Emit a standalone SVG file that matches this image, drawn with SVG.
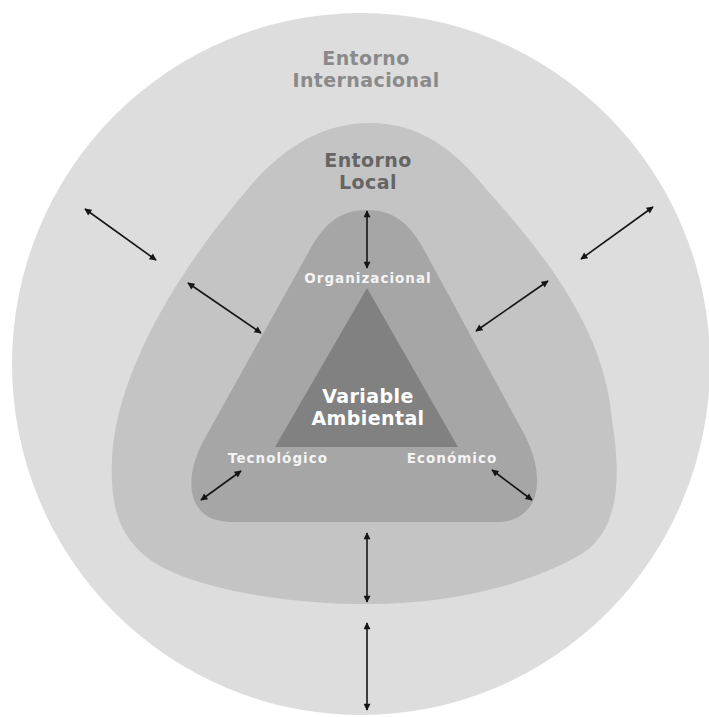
<svg xmlns="http://www.w3.org/2000/svg" width="709" height="717" viewBox="0 0 709 717">
  <defs>
    <marker id="ah" viewBox="0 0 10 10" refX="9" refY="5" markerWidth="9" markerHeight="7" markerUnits="userSpaceOnUse" orient="auto-start-reverse">
      <path d="M0,0 L10,5 L0,10 z" fill="#151515"/>
    </marker>
  </defs>
  <style>
    .t { font-family: "DejaVu Sans", Verdana, sans-serif; font-weight: bold; text-anchor: middle; }
    .big { font-size: 19px; letter-spacing: 0.4px; }
    .sm { font-size: 13.5px; fill: #f4f4f4; letter-spacing: 1px; }
    .arr { stroke: #151515; stroke-width: 1.6; fill: none; marker-start: url(#ah); marker-end: url(#ah); }
  </style>
  <rect width="709" height="717" fill="#ffffff"/>

  <g id="entorno-internacional">
    <ellipse cx="361" cy="364" rx="349" ry="351" fill="#dddddd"/>
    <text class="t big" x="366" y="65" fill="#8a8a8a">Entorno</text>
    <text class="t big" x="366" y="87" fill="#8a8a8a" letter-spacing="0.8">Internacional</text>
  </g>

  <g id="entorno-local">
    <path d="M370,123 C420,123 455,150 487,190 C545,255 605,330 612,420 C622,480 618,530 583,553 C530,585 450,604 367,604 C280,604 200,588 160,566 C118,542 110,505 112,460 C115,380 170,280 247,190 C280,150 320,123 370,123 Z" fill="#c4c4c4"/>
    <text class="t big" x="368" y="167" fill="#656565">Entorno</text>
    <text class="t big" x="368" y="189" fill="#656565">Local</text>
  </g>

  <g id="factores">
    <path d="M367,210 C392,210 408,222 422,246 L522,430 C540,462 545,500 520,516 C512,521 505,522 495,522 L235,522 C222,522 210,520 202,512 C185,495 190,465 205,438 L312,246 C326,222 342,210 367,210 Z" fill="#a6a6a6"/>
    <text class="t sm" x="368" y="283">Organizacional</text>
    <text class="t sm" x="278" y="463">Tecnológico</text>
    <text class="t sm" x="452" y="463">Económico</text>
  </g>

  <g id="variable-ambiental">
    <polygon points="367,288 275,447 458,447" fill="#818181"/>
    <text class="t big" x="368" y="403" fill="#ffffff">Variable</text>
    <text class="t big" x="368" y="425" fill="#ffffff">Ambiental</text>
  </g>

  <g id="connectors">
    <line class="arr" x1="85" y1="209" x2="156" y2="260"/>
    <line class="arr" x1="188" y1="283" x2="261" y2="333"/>
    <line class="arr" x1="653" y1="207" x2="581" y2="259"/>
    <line class="arr" x1="548" y1="281" x2="476" y2="331"/>
    <line class="arr" x1="367" y1="211" x2="367" y2="268"/>
    <line class="arr" x1="241" y1="471" x2="201" y2="500"/>
    <line class="arr" x1="492" y1="470" x2="532" y2="500"/>
    <line class="arr" x1="367" y1="533" x2="367" y2="602"/>
    <line class="arr" x1="367" y1="623" x2="367" y2="710"/>
  </g>
</svg>
